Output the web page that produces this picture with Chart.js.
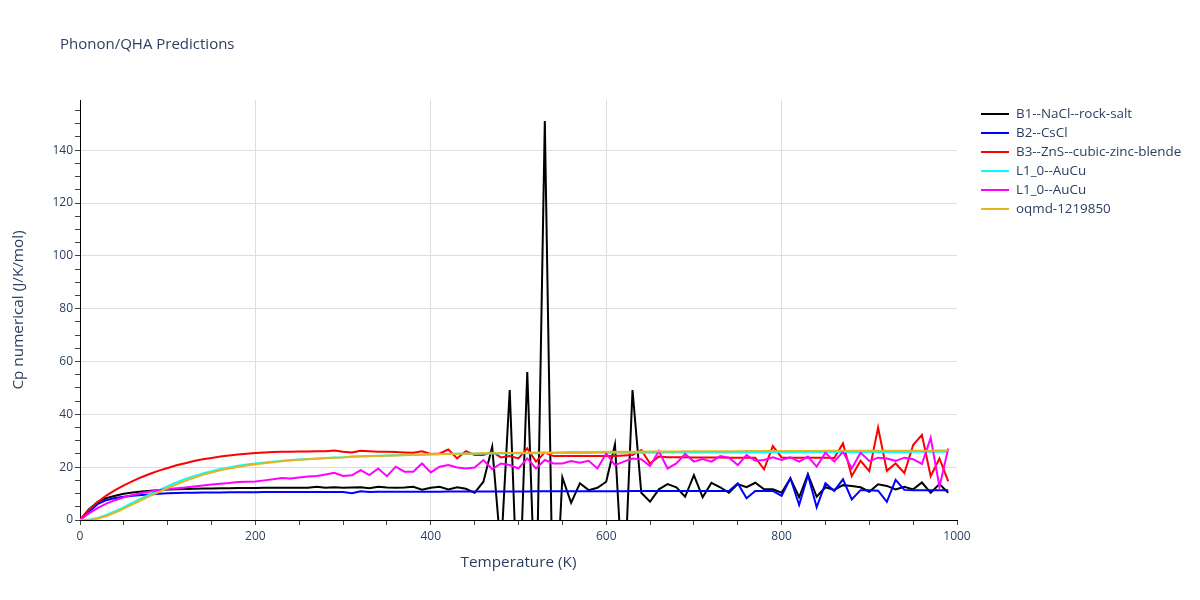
<!DOCTYPE html>
<html>
<head>
<meta charset="utf-8">
<script src="https://cdn.jsdelivr.net/npm/chart.js@4.4.1/dist/chart.umd.min.js"></script>
<style>
  body { margin: 0; background: #fff; }
  canvas { display: block; }
</style>
</head>
<body>
<canvas id="cpChart" width="1200" height="600"></canvas>
<script>
// temperatures (K)
const temps = [
  0, 10, 20, 30, 40, 50, 60, 70, 80, 90,
  100, 110, 120, 130, 140, 150, 160, 170, 180, 190,
  200, 210, 220, 230, 240, 250, 260, 270, 280, 290,
  300, 310, 320, 330, 340, 350, 360, 370, 380, 390,
  400, 410, 420, 430, 440, 450, 460, 470, 480, 490,
  500, 510, 520, 530, 540, 550, 560, 570, 580, 590,
  600, 610, 620, 630, 640, 650, 660, 670, 680, 690,
  700, 710, 720, 730, 740, 750, 760, 770, 780, 790,
  800, 810, 820, 830, 840, 850, 860, 870, 880, 890,
  900, 910, 920, 930, 940, 950, 960, 970, 980, 990
];

const b1RockSalt = [
  0, 4.0, 6.8, 8.3, 9.2, 9.9, 10.4, 10.8, 11.1, 11.3,
  11.5, 11.6, 11.7, 11.8, 11.9, 11.9, 12.0, 12.0, 12.1, 12.1,
  12.1, 12.2, 12.2, 12.2, 12.2, 12.2, 12.2, 12.6, 12.2, 12.4,
  12.2, 12.3, 12.4, 12.0, 12.6, 12.3, 12.2, 12.3, 12.6, 11.5,
  12.2, 12.6, 11.6, 12.4, 11.8, 10.3, 14.5, 27.7, -12, 49.2,
  -40, 56, -40, 151, -50, 16.1, 6.5, 13.9, 11.3, 12.2,
  14.5, 28.6, -30, 49.2, 10.3, 6.9, 11.6, 13.6, 12.4, 8.8,
  17.0, 8.6, 14.1, 12.4, 10.3, 13.6, 12.4, 14.1, 11.6, 11.6,
  10.3, 15.8, 8.6, 17.3, 8.8, 12.4, 11.4, 13.2, 12.9, 12.4,
  10.7, 13.5, 12.9, 11.6, 12.6, 11.6, 14.2, 10.3, 13.6, 10.3
];

const b2CsCl = [
  0, 3.0, 6.0, 7.5, 8.3, 8.8, 9.2, 9.5, 9.7, 9.9,
  10.1, 10.2, 10.3, 10.35, 10.4, 10.4, 10.45, 10.5, 10.5, 10.5,
  10.55, 10.6, 10.6, 10.6, 10.6, 10.6, 10.6, 10.6, 10.6, 10.6,
  10.6, 10.1, 10.9, 10.6, 10.65, 10.65, 10.65, 10.7, 10.7, 10.7,
  10.7, 10.7, 10.75, 10.75, 10.75, 10.75, 10.8, 10.8, 10.8, 10.8,
  10.8, 10.8, 10.85, 10.85, 10.85, 10.85, 10.9, 10.9, 10.9, 10.9,
  10.9, 10.9, 10.9, 10.95, 10.95, 10.95, 10.95, 10.95, 11.0, 11.0,
  11.0, 11.0, 11.0, 11.0, 11.0, 13.9, 8.2, 11.0, 11.0, 11.0,
  9.1, 15.8, 5.7, 17.0, 4.8, 13.9, 11.0, 15.4, 7.8, 11.3,
  11.3, 11.1, 6.9, 15.2, 11.4, 11.3, 11.3, 11.3, 11.3, 11.3
];

const b3ZincBlende = [
  0, 3.8, 6.8, 9.2, 11.3, 13.1, 14.7, 16.2, 17.5, 18.7,
  19.7, 20.7, 21.5, 22.3, 23.0, 23.5, 24.0, 24.4, 24.8, 25.1,
  25.4, 25.6, 25.7, 25.8, 25.8, 25.9, 25.9, 26.0, 26.0, 26.3,
  25.8, 25.6, 26.2, 26.0, 25.8, 25.8, 25.7, 25.6, 25.5, 26.0,
  25.0, 25.2, 26.7, 23.3, 26.1, 24.6, 24.6, 25.8, 23.7, 24.2,
  23.3, 27.1, 22.1, 25.5, 24.2, 24.2, 24.2, 24.2, 24.2, 24.2,
  24.2, 24.2, 24.4, 24.6, 26.5, 21.4, 24.0, 23.8, 23.8, 23.8,
  23.7, 23.7, 23.7, 23.7, 23.6, 23.6, 23.6, 23.6, 19.2, 28.0,
  23.7, 23.6, 23.6, 23.6, 23.6, 23.6, 23.5, 29.0, 16.6, 22.4,
  18.5, 35.0, 18.6, 21.4, 17.8, 28.4, 32.2, 16.6, 23.3, 14.6
];

const l10AuCuA = [
  0, 0.1, 0.8, 1.9, 3.3, 4.9, 6.6, 8.2, 9.8, 11.3,
  12.8, 14.2, 15.5, 16.6, 17.6, 18.5, 19.3, 19.9, 20.5, 21.0,
  21.4, 21.8, 22.1, 22.4, 22.7, 22.9, 23.1, 23.3, 23.5, 23.7,
  23.8, 24.0, 24.1, 24.2, 24.3, 24.4, 24.5, 24.6, 24.7, 24.8,
  24.9, 24.95, 25.0, 25.05, 25.1, 25.1, 25.15, 25.2, 25.2, 25.25,
  25.3, 25.3, 25.3, 25.35, 25.35, 25.4, 25.4, 25.4, 25.4, 25.45,
  25.45, 25.45, 25.5, 25.5, 25.5, 25.5, 25.5, 25.55, 25.55, 25.55,
  25.55, 25.6, 25.6, 25.6, 25.6, 25.6, 25.6, 25.65, 25.65, 25.65,
  25.65, 25.65, 25.7, 25.7, 25.7, 25.7, 25.7, 25.7, 25.7, 25.75,
  25.75, 25.75, 25.75, 25.75, 25.75, 25.8, 25.8, 25.8, 25.8, 25.8
];

const l10AuCuB = [
  0, 2.5, 4.5, 6.2, 7.5, 8.6, 9.5, 10.2, 10.8, 11.3,
  11.7, 12.0, 12.3, 12.7, 13.1, 13.4, 13.7, 14.0, 14.4, 14.5,
  14.6, 15.0, 15.4, 15.9, 15.7, 16.1, 16.5, 16.7, 17.2, 17.9,
  16.7, 16.9, 18.9, 17.0, 19.5, 16.6, 20.2, 18.3, 18.3, 21.4,
  18.0, 20.2, 20.8, 19.9, 19.5, 19.9, 22.7, 19.2, 21.4, 20.8,
  19.5, 23.3, 19.5, 22.7, 21.4, 21.4, 22.3, 21.7, 22.4, 19.5,
  25.2, 20.8, 22.1, 23.3, 23.0, 20.4, 26.1, 19.5, 21.4, 25.0,
  22.1, 23.1, 22.1, 24.2, 23.6, 20.8, 24.6, 22.4, 22.7, 23.7,
  22.7, 23.7, 22.1, 24.0, 20.2, 25.5, 22.1, 25.8, 19.5, 25.5,
  22.3, 23.6, 23.3, 22.4, 23.6, 23.0, 21.2, 31.1, 12.6, 27.1
];

const oqmd1219850 = [
  0, 0.05, 0.5, 1.5, 2.8, 4.3, 5.9, 7.5, 9.1, 10.6,
  12.1, 13.5, 14.8, 16.0, 17.1, 18.0, 18.8, 19.5, 20.1, 20.6,
  21.1, 21.5, 21.9, 22.2, 22.5, 22.8, 23.0, 23.2, 23.4, 23.6,
  23.7, 23.9, 24.0, 24.1, 24.2, 24.3, 24.4, 24.5, 24.6, 24.7,
  24.8, 24.9, 25.0, 25.05, 25.1, 25.2, 25.25, 25.3, 25.35, 25.4,
  25.45, 25.5, 25.55, 25.6, 25.6, 25.65, 25.7, 25.7, 25.75, 25.75,
  25.8, 25.8, 25.85, 25.85, 25.9, 25.9, 25.9, 25.95, 25.95, 26.0,
  26.0, 26.0, 26.0, 26.05, 26.05, 26.05, 26.1, 26.1, 26.1, 26.1,
  26.1, 26.15, 26.15, 26.15, 26.15, 26.2, 26.2, 26.2, 26.2, 26.2,
  26.2, 26.2, 26.25, 26.25, 26.25, 26.25, 26.25, 26.25, 26.3, 26.3
];

const seriesNames = [
  "B1--NaCl--rock-salt",
  "B2--CsCl",
  "B3--ZnS--cubic-zinc-blende",
  "L1_0--AuCu",
  "L1_0--AuCu",
  "oqmd-1219850"
];
const seriesValues = [b1RockSalt, b2CsCl, b3ZincBlende, l10AuCuA, l10AuCuB, oqmd1219850];
const seriesColors = ["#000000", "#0000ff", "#ff0000", "#00ffff", "#ff00ff", "#e6b41e"];

const xTicks = [0, 200, 400, 600, 800, 1000];
const yTicks = [0, 20, 40, 60, 80, 100, 120, 140];

const FONT = "'Open Sans', Verdana, Arial, sans-serif";
const TEXT = "#2a3f5f";

// title + legend drawn like plotly's
const plotlyExtras = {
  id: 'plotlyExtras',
  afterDraw(chart) {
    const ctx = chart.ctx;
    ctx.save();
    ctx.fillStyle = TEXT;
    ctx.font = "15px " + FONT;
    ctx.textBaseline = 'middle';
    ctx.textAlign = 'left';
    ctx.fillText("Phonon/QHA Predictions", 60, 45);

    ctx.font = "13.4px " + FONT;
    chart.data.datasets.forEach((ds, i) => {
      const y = 114 + i * 19;
      ctx.strokeStyle = ds.borderColor;
      ctx.lineWidth = 2;
      ctx.beginPath();
      ctx.moveTo(981, y);
      ctx.lineTo(1009, y);
      ctx.stroke();
      ctx.fillStyle = TEXT;
      ctx.fillText(ds.label, 1016, y);
    });
    ctx.restore();
  }
};

const datasets = seriesValues.map((vals, i) => ({
  label: seriesNames[i],
  data: temps.map((t, k) => ({ x: t, y: vals[k] })),
  borderColor: seriesColors[i],
  backgroundColor: seriesColors[i],
  borderWidth: 2,
  pointRadius: 0,
  tension: 0,
  fill: false,
  order: seriesValues.length - 1 - i
}));

new Chart(document.getElementById('cpChart'), {
  type: 'line',
  data: { datasets },
  plugins: [plotlyExtras],
  options: {
    responsive: false,
    animation: false,
    layout: { padding: { left: 0, top: 100, right: 243, bottom: 0 } },
    plugins: {
      legend: { display: false },
      title: { display: false },
      tooltip: { enabled: false }
    },
    scales: {
      x: {
        type: 'linear',
        min: 0,
        max: 1000,
        afterFit: s => { s.height = 80; },
        ticks: {
          stepSize: 50,
          autoSkip: false,
          includeBounds: false,
          maxRotation: 0,
          padding: 4,
          color: TEXT,
          font: { family: FONT, size: 12 },
          callback: v => xTicks.includes(v) ? String(v) : ''
        },
        grid: {
          color: c => (c.tick && xTicks.includes(c.tick.value) && c.tick.value !== 0 && c.tick.value !== 1000) ? '#dedede' : 'rgba(0,0,0,0)',
          tickColor: '#444',
          tickLength: 5
        },
        border: { color: '#000', width: 1 },
        title: {
          display: true,
          text: 'Temperature (K)',
          color: TEXT,
          font: { family: FONT, size: 15.3 },
          padding: { top: 0, bottom: 28 }
        }
      },
      y: {
        min: 0,
        max: 159,
        afterFit: s => { s.width = 80; },
        ticks: {
          stepSize: 5,
          autoSkip: false,
          includeBounds: false,
          padding: 2,
          color: TEXT,
          font: { family: FONT, size: 12 },
          callback: v => yTicks.includes(v) ? String(v) : ''
        },
        grid: {
          color: c => (c.tick && yTicks.includes(c.tick.value) && c.tick.value !== 0) ? '#dedede' : 'rgba(0,0,0,0)',
          tickColor: '#444',
          tickLength: 5
        },
        border: { color: '#000', width: 1 },
        title: {
          display: true,
          text: 'Cp numerical (J/K/mol)',
          color: TEXT,
          font: { family: FONT, size: 15.3 },
          padding: { top: 9, bottom: 0 }
        }
      }
    }
  }
});
</script>
</body>
</html>
